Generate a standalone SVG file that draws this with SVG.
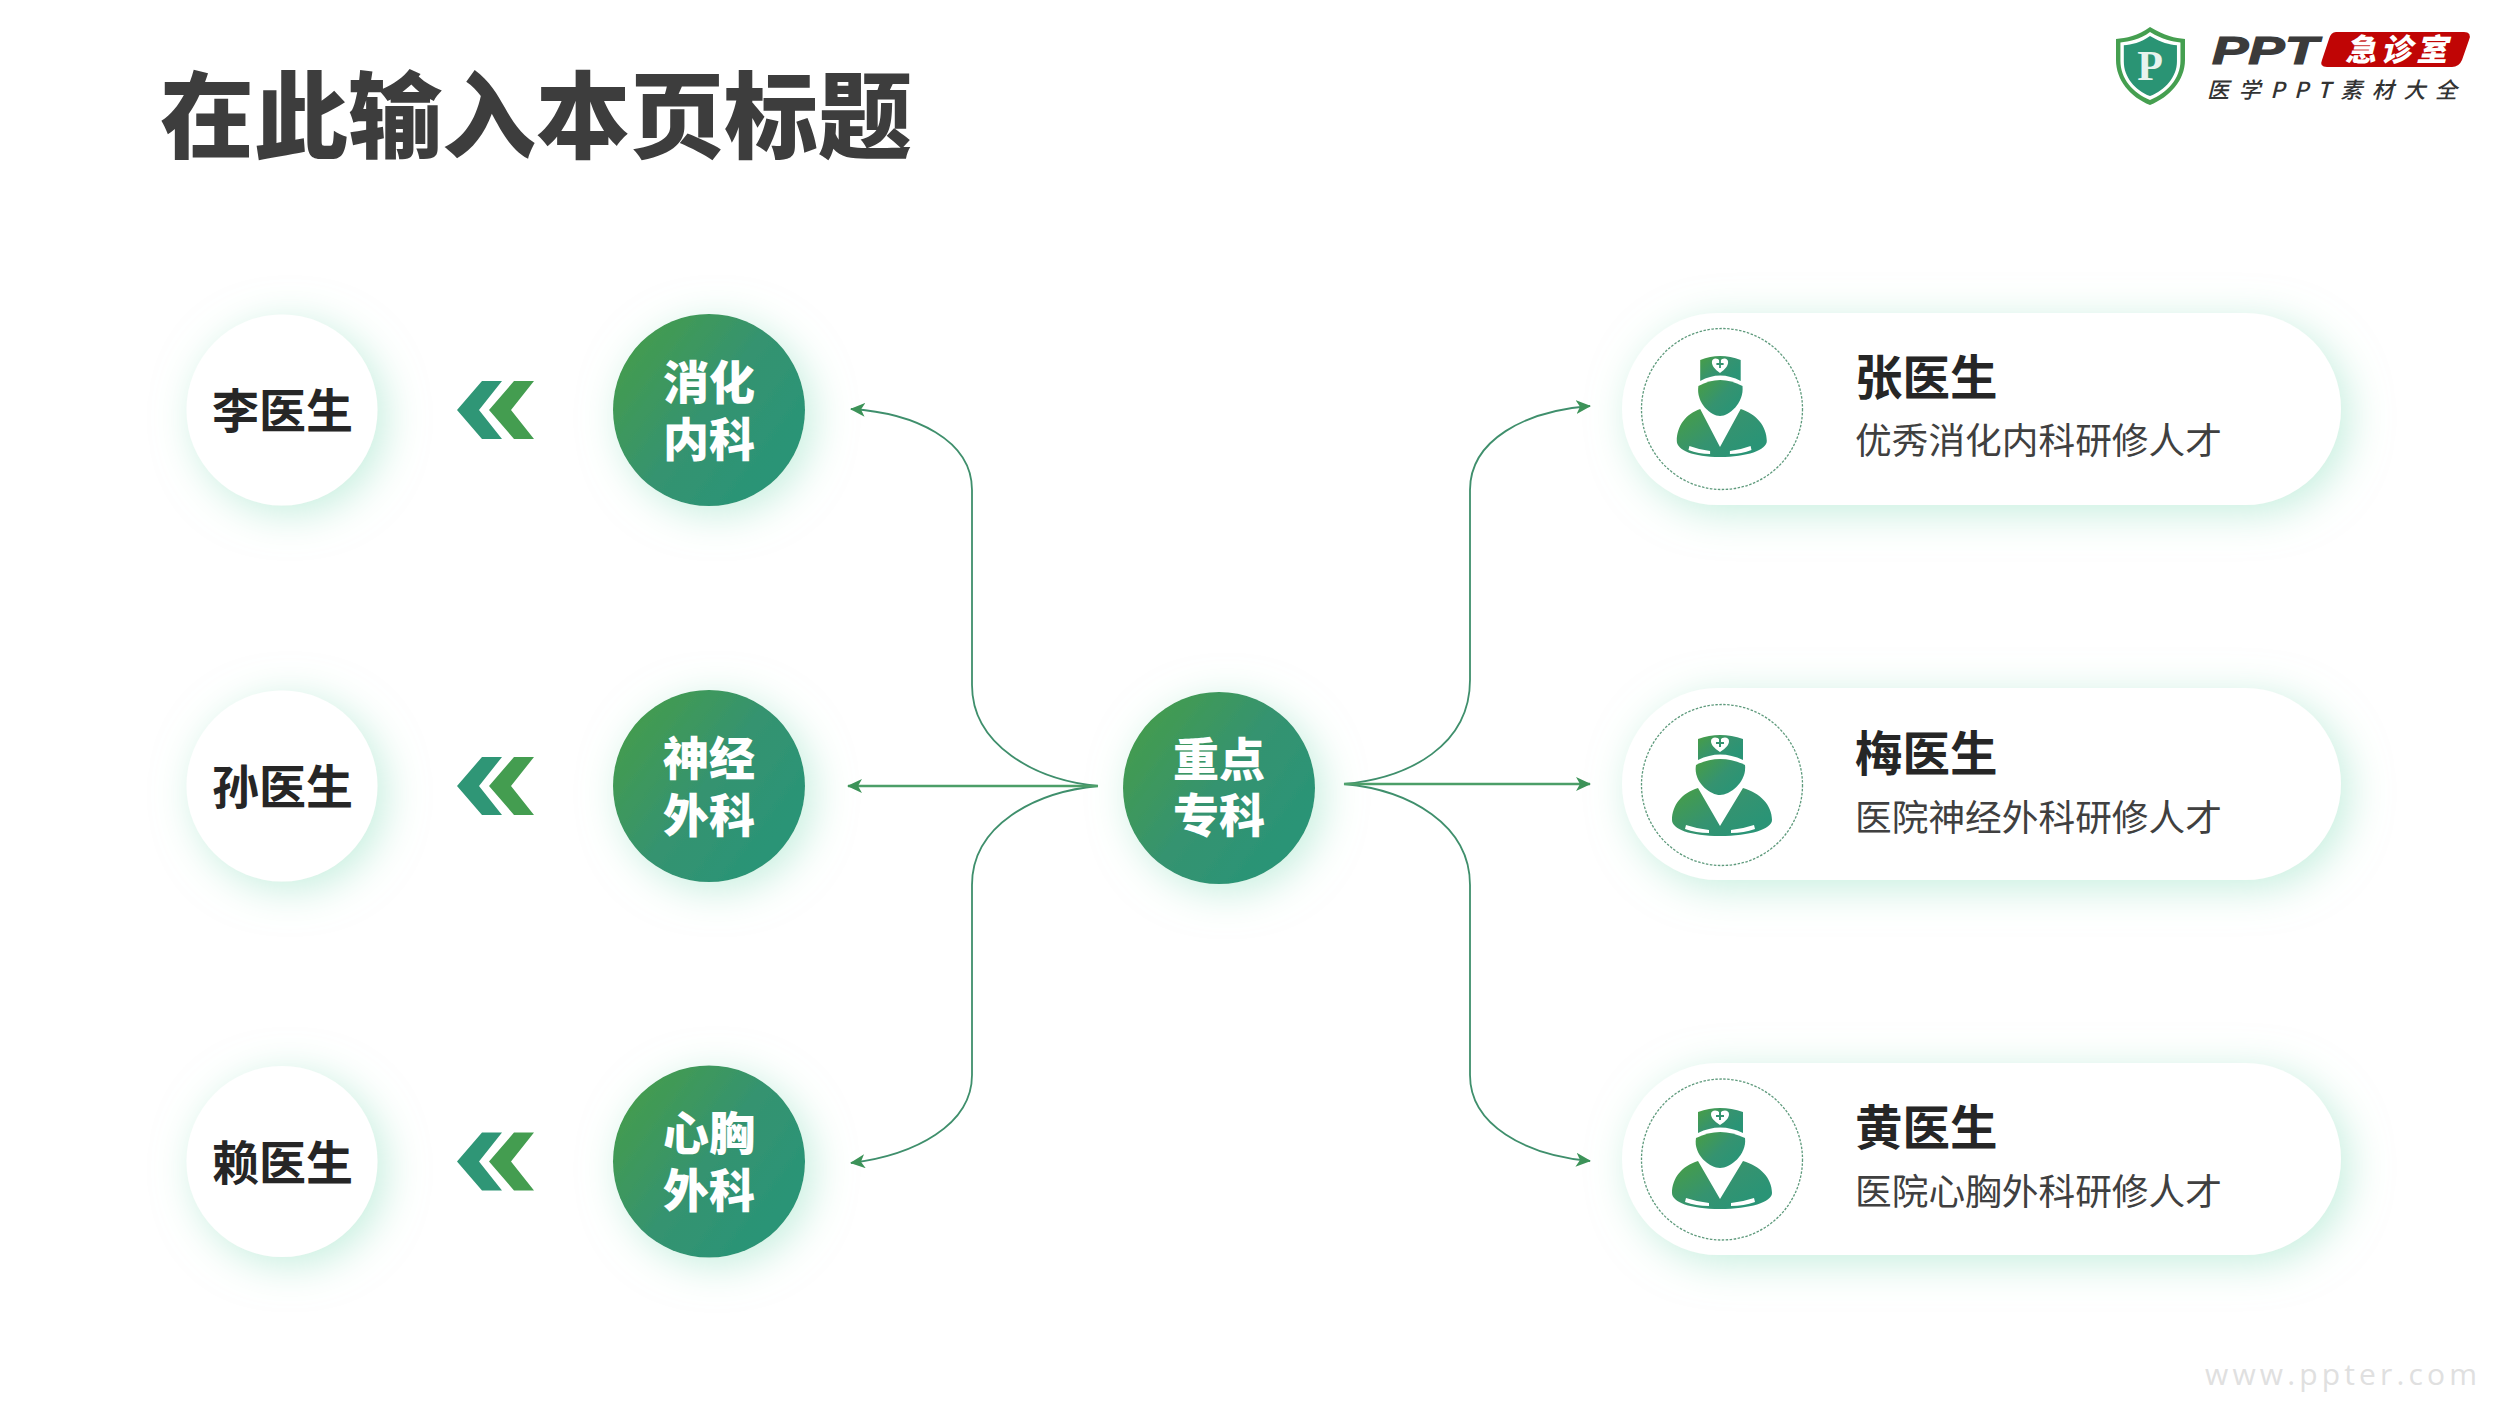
<svg xmlns="http://www.w3.org/2000/svg" width="2500" height="1406" viewBox="0 0 2500 1406">
<style>
text{font-family:"Noto Sans CJK SC","Liberation Sans",sans-serif}
.title{font-size:94px;font-weight:900;fill:#3d3d3d}
.in{font-size:46px;font-weight:900;fill:#fff;text-anchor:middle}
.doc{font-size:47px;font-weight:700;fill:#262626;text-anchor:middle}
.name{font-size:47.5px;font-weight:700;fill:#262626}
.sub{font-size:36.7px;fill:#404040}
.ln{fill:none;stroke:#3f8f6c;stroke-width:1.8}
.st{fill:none;stroke:#4c9e68;stroke-width:2.6}
.dash{fill:#fff;stroke:#5e9a7c;stroke-width:1.3;stroke-dasharray:2.5 1.5}
</style>
<defs>
<linearGradient id="g" x1="0.1" y1="0.1" x2="0.9" y2="0.7"><stop offset="0" stop-color="#459c4c"/><stop offset="0.55" stop-color="#359370"/><stop offset="1" stop-color="#2a9476"/></linearGradient>
<filter id="sh" x="-40%" y="-40%" width="180%" height="180%"><feDropShadow dx="8" dy="8" stdDeviation="20" flood-color="#9fe3c8" flood-opacity="0.6"/></filter>
<marker id="ar" viewBox="0 0 15 14" refX="14" refY="7" markerWidth="15" markerHeight="14" markerUnits="userSpaceOnUse" orient="auto"><path d="M0,0 L15,7 L0,14 L4,7 Z" fill="#3c9358"/></marker>
<g id="chev"><path d="M0,29 L25,0 L45,0 L22,29 L45,58 L25,58 Z" fill="#2f9676"/><path d="M32,29 L57,0 L77,0 L54,29 L77,58 L57,58 Z" fill="#449d50"/></g>
<g id="doc">
<g fill="url(#g)">
<path d="M-22,-46 Q0,-54 23,-46 L23,-25 Q0,-36 -22,-25 Z"/>
<path d="M-24,-20 Q0,-32 25,-20 C27,-3 10,10 0,10 C-10,10 -27,-3 -24,-20 Z"/>
<path d="M-22,3 C-38,8 -48,20 -48,35 C-48,44 -30,51 0,51 C30,51 52,44 52,35 C52,20 40,8 23,3 L0,41 Z"/>
</g>
<path d="M-34,40 Q-22,44 -11,45 L-11,48 Q-24,48 -35,44 Z M34,40 Q22,44 11,45 L11,48 Q24,48 35,44 Z" fill="#fff"/>
<path d="M0,-33 C-6,-37 -9,-40 -9,-44 C-9,-48 -3,-49 0,-45 C3,-49 9,-48 9,-44 C9,-40 6,-37 0,-33 Z" fill="#fff"/>
<path d="M-1,-46 h2 v3 h3 v2 h-3 v3 h-2 v-3 h-3 v-2 h3 Z" fill="#359370"/>
</g>
</defs>
<rect width="2500" height="1406" fill="#fff"/>
<text id="title" class="title" x="160" y="151">在此输入本页标题</text>
<g id="logo">
<path d="M2150,27 C2165,36 2175,38 2185,39 L2185,60 C2185,80 2170,97 2150,105 C2130,97 2116,80 2116,60 L2116,39 C2126,38 2138,36 2150,27 Z" fill="#459f50"/>
<path d="M2150,27 C2165,36 2175,38 2185,39 L2185,60 C2185,80 2170,97 2150,105 C2130,97 2116,80 2116,60 L2116,39 C2126,38 2138,36 2150,27 Z" fill="#fff" transform="translate(2150,66) scale(.87) translate(-2150,-66)"/>
<path d="M2150,27 C2165,36 2175,38 2185,39 L2185,60 C2185,80 2170,97 2150,105 C2130,97 2116,80 2116,60 L2116,39 C2126,38 2138,36 2150,27 Z" fill="#2a9474" transform="translate(2150,66) scale(.77) translate(-2150,-66)"/>
<text x="2150" y="80" text-anchor="middle" style="font-family:'Liberation Serif',serif;font-size:42px;font-weight:700;fill:#e8f3ee">P</text>
<text x="2212" y="64" textLength="106" lengthAdjust="spacingAndGlyphs" style="font-family:'Liberation Sans',sans-serif;font-size:39px;font-weight:700;font-style:italic;fill:#3b3b3b;stroke:#3b3b3b;stroke-width:1.2">PPT</text>
<path d="M2336,32 L2464,32 Q2472,32 2469,40 L2462,60 Q2459,67 2452,67 L2327,67 Q2319,67 2322,60 L2329,39 Q2331,32 2336,32 Z" fill="#c00505"/>
<text x="2345" y="61" textLength="102" style="font-size:31px;font-weight:900;font-style:italic;fill:#fff">急诊室</text>
<text x="2207" y="98" textLength="250" style="font-size:22px;font-weight:500;font-style:italic;fill:#333">医学PPT素材大全</text>
</g>
<g id="connectors">
<path class="ln" d="M1098,786 C1035,780 972,745 972,685 L972,490 C972,440 915,413 851,409" marker-end="url(#ar)"/>
<path class="ln" d="M1098,786 C1035,792 972,825 972,885 L972,1075 C972,1125 915,1155 851,1163" marker-end="url(#ar)"/>
<path class="st" d="M1098,786 L848,786" marker-end="url(#ar)"/>
<path class="ln" d="M1344,784 C1410,778 1470,745 1470,680 L1470,490 C1470,440 1525,411 1590,406" marker-end="url(#ar)"/>
<path class="ln" d="M1344,784 C1410,790 1470,825 1470,885 L1470,1075 C1470,1125 1525,1155 1590,1161" marker-end="url(#ar)"/>
<path class="st" d="M1344,784 L1590,784" marker-end="url(#ar)"/>
</g>
<g id="center"><circle cx="1219" cy="788" r="96" fill="url(#g)" filter="url(#sh)"/><text class="in"><tspan x="1219" y="776">重点</tspan><tspan x="1219" y="832">专科</tspan></text></g>
<g id="dept1"><circle cx="709" cy="410" r="96" fill="url(#g)" filter="url(#sh)"/><text class="in"><tspan x="709" y="399">消化</tspan><tspan x="709" y="456">内科</tspan></text></g>
<g id="dept2"><circle cx="709" cy="786" r="96" fill="url(#g)" filter="url(#sh)"/><text class="in"><tspan x="709" y="775">神经</tspan><tspan x="709" y="832">外科</tspan></text></g>
<g id="dept3"><circle cx="709" cy="1161.5" r="96" fill="url(#g)" filter="url(#sh)"/><text class="in"><tspan x="709" y="1150">心胸</tspan><tspan x="709" y="1207">外科</tspan></text></g>
<g id="doc1"><circle cx="282" cy="410" r="95.5" fill="#fff" filter="url(#sh)"/><text class="doc" x="282.5" y="428">李医生</text></g>
<g id="doc2"><circle cx="282" cy="786" r="95.5" fill="#fff" filter="url(#sh)"/><text class="doc" x="282.5" y="804">孙医生</text></g>
<g id="doc3"><circle cx="282" cy="1161.5" r="95.5" fill="#fff" filter="url(#sh)"/><text class="doc" x="282.5" y="1180">赖医生</text></g>
<use id="chev1" href="#chev" x="457" y="381"/>
<use id="chev2" href="#chev" x="457" y="757"/>
<use id="chev3" href="#chev" x="457" y="1132.5"/>
<g id="card1"><rect x="1622" y="313" width="719" height="192" rx="96" fill="#fff" filter="url(#sh)"/><circle class="dash" cx="1722" cy="409" r="80.5"/><use href="#doc" transform="translate(1720,406) scale(.9,1)"/><text class="name" x="1855" y="395">张医生</text><text class="sub" x="1855" y="454">优秀消化内科研修人才</text></g>
<g id="card2"><rect x="1622" y="688" width="719" height="192" rx="96" fill="#fff" filter="url(#sh)"/><circle class="dash" cx="1722" cy="785" r="80.5"/><use href="#doc" transform="translate(1720,785)"/><text class="name" x="1855" y="771">梅医生</text><text class="sub" x="1855" y="831">医院神经外科研修人才</text></g>
<g id="card3"><rect x="1622" y="1063" width="719" height="192" rx="96" fill="#fff" filter="url(#sh)"/><circle class="dash" cx="1722" cy="1159.5" r="80.5"/><use href="#doc" transform="translate(1720,1158)"/><text class="name" x="1855" y="1145">黄医生</text><text class="sub" x="1855" y="1205">医院心胸外科研修人才</text></g>
<text id="wm" x="2205" y="1385" textLength="272" style="font-family:'Open Sans','Liberation Sans',sans-serif;font-size:30px;fill:#e0e0e0">www.ppter.com</text>
</svg>
